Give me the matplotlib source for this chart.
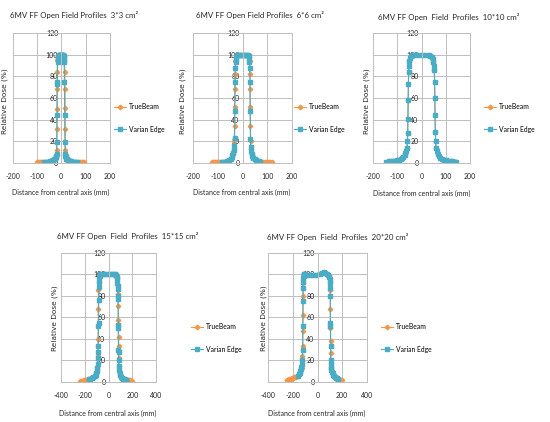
"""
6MV FF open field profiles - TrueBeam vs Varian Edge, five field sizes.
Output: out.png
"""

import matplotlib
matplotlib.use("Agg")
import matplotlib.pyplot as plt

plt.rcParams["font.family"] = ["Lato", "DejaVu Sans"]

# ---------------------------------------------------------------------------
# Data (distance from central axis in mm, relative dose in %)
# ---------------------------------------------------------------------------
# 3*3 cm2
tb1_x = [-98, -94, -90, -86, -82, -78, -74, -60, -45, -33, -25, -21, -19, -18, -17.5, -17, -16.5, -16,
         -14, -10, -5, 0, 5, 10, 13, 15, 15.5, 16, 16.5, 17, 18, 21, 25, 33, 45, 60, 70, 74, 78, 82, 86, 90, 95]
tb1_y = [0.5, 0.5, 0.6, 0.6, 0.7, 0.7, 0.8, 1.0, 1.5, 2.5, 4.5, 7, 12, 31, 50, 68, 84, 95,
         98.5, 100, 100, 100, 100, 99, 95, 84, 68, 51, 31, 12, 7, 4.5, 2.5, 1.5, 1.0, 0.8, 0.7, 0.7, 0.6, 0.6, 0.5, 0.5, 0.5]
ve1_x = [-72, -66, -60, -54, -48, -42, -37, -33, -29, -26, -23, -21, -19, -18, -17, -16.5, -16, -15,
         -14, -12, -10, -8, -6, -4, -2, 0, 2, 4, 6, 8, 10, 11, 12, 13, 14, 15,
         16, 17, 19, 21, 24, 28, 32, 37, 42, 48, 54, 60, 65]
ve1_y = [0.8, 0.9, 1.0, 1.2, 1.4, 1.7, 2.1, 2.6, 3.3, 4.0, 5.2, 6.5, 8.5, 19, 44, 73, 75, 93,
         96, 98.5, 99.5, 100, 100, 100, 100, 100, 100, 100, 100, 99.5, 98.5, 96, 93, 75, 44, 19,
         8.5, 6.5, 5.2, 4.0, 3.3, 2.6, 2.1, 1.7, 1.4, 1.2, 1.0, 0.9, 0.8]

# 6*6 cm2
tb2_x = [-122, -118, -114, -110, -106, -102, -98, -94, -90, -86, -82, -70, -55, -45, -38, -34, -33, -32,
         -31.5, -31, -30.5, -29, -27, -22, -12, 0, 12, 22, 27, 29, 30.5, 31, 31.5, 32, 33, 34,
         38, 45, 55, 70, 78, 84, 90, 96, 102, 108, 113, 118]
tb2_y = [0.5, 0.5, 0.5, 0.6, 0.6, 0.6, 0.7, 0.7, 0.7, 0.8, 0.8, 1.2, 2.5, 4.5, 8, 13, 20, 34,
         52, 68, 82, 94, 97.5, 99.5, 100, 100, 100, 99.5, 97.5, 94, 82, 68, 52, 34, 20, 13,
         8, 4.5, 2.5, 1.2, 0.9, 0.8, 0.7, 0.7, 0.6, 0.6, 0.5, 0.5]
ve2_x = [-82, -76, -70, -64, -58, -53, -48, -44, -41, -38, -36, -34, -32, -31, -30, -29, -28, -27,
         -25, -22, -18, -12, -6, 0, 6, 12, 18, 22, 25, 27, 28, 29, 30, 31, 32, 33,
         35, 37, 40, 44, 49, 55, 61, 67, 72]
ve2_y = [0.8, 1.0, 1.3, 1.7, 2.3, 3.0, 4.0, 5.5, 7.0, 9.0, 12, 16, 23, 48, 75, 88, 93, 96,
         98.5, 99.5, 100, 100, 100, 100, 100, 100, 100, 99.5, 98.5, 96, 93, 88, 75, 48, 22, 15,
         11, 8.5, 6.5, 5.0, 3.7, 2.7, 2.0, 1.4, 1.0]

# 10*10 cm2
tb3_x = [-144, -132, -116, -100, -86, -75, -66, -60, -57, -55, -53, -50, -44, -30,
         0, 30, 42, 49, 53, 55, 57, 60, 67, 78, 92, 108, 124, 140]
tb3_y = [1.1, 1.4, 1.9, 2.7, 3.9, 5.8, 8.8, 14, 28, 58, 84, 94, 98.5, 100,
         100, 100, 98, 93, 86, 60, 29, 14, 8.5, 5.0, 3.1, 2.0, 1.4, 1.1]
ve3_x = [-148, -140, -132, -124, -116, -108, -100, -93, -86, -80, -75, -70, -66, -63, -60, -58, -57, -56,
         -55, -54, -53, -52, -50, -47, -44, -40, -30, -15, 0, 15, 30, 37, 42, 46, 49, 51,
         53, 54, 55, 56, 57, 58, 60, 63, 67, 72, 78, 85, 92, 100, 108, 116, 124, 132, 138, 144]
ve3_y = [1.0, 1.2, 1.4, 1.6, 1.9, 2.2, 2.7, 3.2, 3.9, 4.8, 5.8, 7.2, 8.8, 11, 14, 20, 28, 41,
         58, 73, 84, 90, 94, 97, 98.5, 99.5, 100, 100, 100, 100, 99.5, 99, 98, 96, 93, 90,
         86, 75, 60, 44, 29, 20, 14, 11, 8.5, 6.5, 5.0, 3.9, 3.1, 2.5, 2.0, 1.7, 1.4, 1.2, 1.1, 1.0]

# 15*15 cm2
tb4_x = [-235, -228, -221, -214, -207, -200, -193, -186, -179, -172, -165, -150, -125, -105, -95, -90, -88, -87,
         -86, -84, -82, -78, -70, -40, 0, 40, 60, 72, 78, 81, 82, 83, 84, 85, 86, 88,
         92, 100, 115, 135, 150, 160, 168, 176, 184, 192, 200]
tb4_y = [0.8, 0.9, 1.0, 1.2, 1.4, 1.6, 1.8, 2.0, 2.3, 2.6, 2.9, 3.5, 5, 9, 14, 24, 33, 40,
         68, 85, 93, 97, 100, 100.5, 100.5, 100.5, 100, 96, 90, 82, 70, 57, 42, 33, 22, 15,
         10, 7, 4.5, 3, 2.4, 2.0, 1.7, 1.4, 1.2, 1.0, 0.8]
ve4_x = [-165, -152, -140, -128, -117, -108, -102, -97, -93, -90, -88, -86, -85, -84, -83, -82, -81, -80,
         -78, -74, -68, -60, -40, -20, 0, 20, 40, 55, 62, 67, 71, 74, 76, 78, 79, 80,
         81, 82, 83, 84, 85, 87, 90, 94, 99, 105, 112, 120, 128, 136, 143, 150]
ve4_y = [2.5, 3.0, 3.5, 4.2, 5.2, 6.5, 8, 10, 13, 17, 22, 28, 33, 52, 55, 76, 88, 93,
         96, 98.5, 100, 100.5, 100.5, 100.5, 100.5, 100.5, 100.5, 100, 99, 97.5, 95, 92, 89, 86, 80, 77,
         53, 50, 30, 28, 20, 15, 11, 8.5, 6.5, 5.0, 4.0, 3.2, 2.6, 2.2, 1.9, 1.6]

# 20*20 cm2
tb5_x = [-250, -243, -236, -229, -222, -215, -208, -201, -194, -187, -180, -172, -165, -158, -140, -128, -122, -120,
         -119, -118, -117, -115, -110, -100, -50, 0, 50, 90, 100, 103, 104, 105, 106, 107, 108, 111,
         118, 130, 145, 160, 168, 176, 184, 190, 195]
tb5_y = [1.5, 1.8, 2.1, 2.4, 2.7, 3.0, 3.3, 3.6, 3.9, 4.2, 4.5, 4.9, 5.4, 6.0, 9, 13, 24, 33,
         47, 62, 80, 92, 98, 99.5, 99.5, 100, 101.5, 99.5, 93, 85, 68, 50, 38, 27, 18, 13,
         9, 6, 4, 3.0, 2.7, 2.4, 2.1, 1.9, 1.7]
ve5_x = [-160, -152, -145, -139, -134, -130, -126, -123, -120, -118, -117, -116, -115, -114, -113, -112, -111, -110,
         -108, -105, -100, -90, -70, -40, -10, 20, 40, 50, 60, 75, 85, 92, 97, 100, 102, 103,
         104, 105, 106, 107, 108, 110, 113, 117, 122, 128, 135, 142, 150, 157, 165]
ve5_y = [6, 7, 8.5, 10, 12, 14, 17, 20, 30, 52, 75, 87, 93, 96, 98, 99, 99.5, 100,
         100, 100, 99.5, 99.5, 99.5, 99.5, 99.5, 100, 101, 101.5, 101, 100, 99, 97, 95, 92, 87, 80,
         55, 52, 33, 20, 16, 13, 11, 9.5, 8, 6.8, 5.7, 4.8, 4.0, 3.3, 2.7]

titles = ["6MV FF Open Field Profiles  3*3 cm²", "6MV FF Open Field Profiles  6*6 cm²",
          "6MV FF Open  Field  Profiles  10*10 cm²", "6MV FF Open  Field  Profiles  15*15 cm²",
          "6MV FF Open  Field  Profiles  20*20 cm²"]
series_names = ["TrueBeam", "Varian Edge"]
y_ticks = [0, 20, 40, 60, 80, 100, 120]
x_ticks_small = [-200, -100, 0, 100, 200]
x_ticks_large = [-400, -200, 0, 200, 400]

# ---------------------------------------------------------------------------
# Layout (pixel boxes on a 550x422 canvas)
# ---------------------------------------------------------------------------
W, H = 550, 422
TB_COLOR = "#F79646"
VE_COLOR = "#4BACC6"
GRID = "#BFBFBF"
TXT = "#262626"


def px_rect(l, t, r, b):
    return [l / W, 1 - b / H, (r - l) / W, (b - t) / H]


def fx(x):
    return x / W


def fy(y):
    return 1 - y / H


panels = [
    # plot box, title (x, y), ylabel centre, xlabel centre, legend top-left
    dict(box=(12.5, 33, 110, 163), title=(10, 15), ylab=(5, 101), xlab=(61, 192), leg=(114, 103)),
    dict(box=(193, 33, 292, 163), title=(196, 15), ylab=(183, 101), xlab=(242, 192), leg=(294, 103)),
    dict(box=(373, 33, 470, 163), title=(378, 17), ylab=(367, 101), xlab=(422, 193), leg=(484, 103)),
    dict(box=(60.7, 252.5, 156.3, 382), title=(57, 236), ylab=(55, 318), xlab=(108, 413), leg=(191, 323)),
    dict(box=(268, 252.5, 367, 382), title=(267, 237), ylab=(264, 318), xlab=(317, 413), leg=(381, 323)),
]
data = [(tb1_x, tb1_y, ve1_x, ve1_y), (tb2_x, tb2_y, ve2_x, ve2_y), (tb3_x, tb3_y, ve3_x, ve3_y),
        (tb4_x, tb4_y, ve4_x, ve4_y), (tb5_x, tb5_y, ve5_x, ve5_y)]

fig = plt.figure(figsize=(W / 100, H / 100), dpi=100)

for i, (p, (tbx, tby, vex, vey)) in enumerate(zip(panels, data)):
    ax = fig.add_axes(px_rect(*p["box"]))
    ax.plot(tbx, tby, color=TB_COLOR, marker="D", ms=2.3, lw=0.8, label=series_names[0])
    ax.plot(vex, vey, color=VE_COLOR, marker="s", ms=3.1, lw=0.8, label=series_names[1])

    xt = x_ticks_small if i < 3 else x_ticks_large
    ax.set_xlim(xt[0], xt[-1])
    ax.set_ylim(0, 120)
    ax.set_xticks(xt)
    ax.set_yticks(y_ticks)
    ax.set_xticklabels([str(v) for v in xt])
    ax.grid(True, color=GRID, lw=0.7)
    ax.set_axisbelow(True)
    for s in ["top", "right", "bottom", "left"]:
        ax.spines[s].set_color(GRID)
        ax.spines[s].set_linewidth(0.7)
    # vertical axis crosses at x = 0, labels sit next to it
    ax.spines["left"].set_position(("data", 0))
    ax.tick_params(axis="x", length=0, pad=7, labelsize=5.0, colors=TXT)
    ax.tick_params(axis="y", length=0, pad=2.2, labelsize=5.0, colors=TXT)

    fig.text(fx(p["title"][0]), fy(p["title"][1]), titles[i], fontsize=5.7,
             ha="left", va="center", color=TXT)
    fig.text(fx(p["ylab"][0]), fy(p["ylab"][1]), "Relative Dose (%)", fontsize=5.3,
             rotation=90, ha="center", va="center", color=TXT, family="DejaVu Sans")
    fig.text(fx(p["xlab"][0]), fy(p["xlab"][1]), "Distance from central axis (mm)", fontsize=5.0,
             ha="center", va="center", color=TXT)

    ax.legend(loc="upper left", bbox_to_anchor=(fx(p["leg"][0]), fy(p["leg"][1])),
              bbox_transform=fig.transFigure, frameon=False, fontsize=4.9,
              borderpad=0, borderaxespad=0, handlelength=1.8, handletextpad=0.4,
              labelspacing=2.3)

fig.savefig("out.png", dpi=100)
